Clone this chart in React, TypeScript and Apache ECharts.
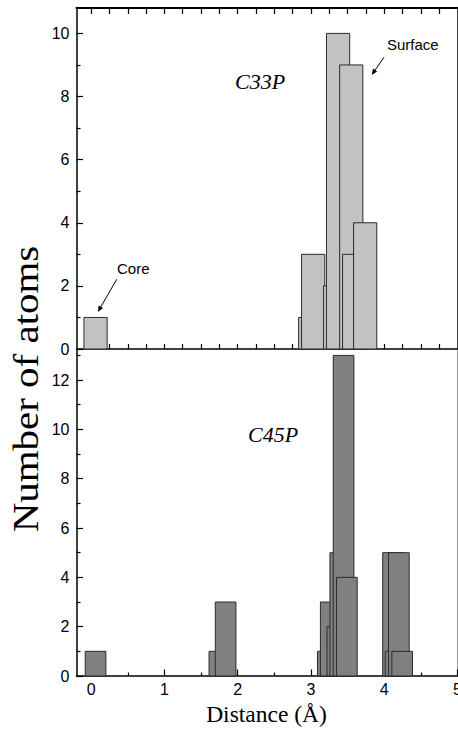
import React, { useEffect, useRef } from 'react';
import * as echarts from 'echarts';

// C33P histogram (upper panel): bar centres (Å) and atom counts
const c33pDistance = [0.06, 2.99, 3.03, 3.33, 3.37, 3.55, 3.59, 3.74];
const c33pCount = [1, 1, 3, 2, 10, 9, 3, 4];

// C45P histogram (lower panel)
const c45pDistance = [0.06, 1.75, 1.835, 3.23, 3.27, 3.36, 3.4, 3.445, 3.49, 4.12, 4.155, 4.2, 4.245];
const c45pCount = [1, 1, 3, 1, 3, 2, 5, 13, 4, 5, 1, 5, 1];

// tick values / labels
const xLabelTicks = [0, 1, 2, 3, 4, 5];
const xHalfTicks = [0.5, 1.5, 2.5, 3.5, 4.5];
const xQuarterTicks = [0, 0.25, 0.5, 0.75, 1, 1.25, 1.5, 1.75, 2, 2.25, 2.5, 2.75, 3, 3.25, 3.5, 3.75, 4, 4.25, 4.5, 4.75];
const c33pYTicks = [0, 2, 4, 6, 8, 10];
const c33pYMinor = [1, 3, 5, 7, 9];
const c45pYTicks = [0, 2, 4, 6, 8, 10, 12];
const c45pYMinor = [1, 3, 5, 7, 9, 11, 13];

const X_MIN = -0.2;
const X_MAX = 5;
const TOP_Y_MAX = 10.82;
const BOT_Y_MAX = 13.26;
const TOP_BAR_W = 0.317;
const BOT_BAR_W = 0.282;

const SANS = '"Liberation Sans", Arial, sans-serif';
const SERIF = '"Liberation Serif", "Times New Roman", serif';

function makeRender(w: number, fill: string) {
  return (params: any, api: any) => {
    const x = api.value(0);
    const y = api.value(1);
    const tl = api.coord([x - w / 2, y]);
    const br = api.coord([x + w / 2, 0]);
    return {
      type: 'rect',
      shape: { x: tl[0], y: tl[1], width: br[0] - tl[0], height: br[1] - tl[1] },
      style: { fill, stroke: '#2b2b2b', lineWidth: 1 },
    };
  };
}

function arrow(x1: number, y1: number, x2: number, y2: number) {
  const dx = x2 - x1;
  const dy = y2 - y1;
  const len = Math.sqrt(dx * dx + dy * dy);
  const ux = dx / len;
  const uy = dy / len;
  const hl = 6;
  const hw = 2.6;
  const bx = x2 - ux * hl;
  const by = y2 - uy * hl;
  return [
    { type: 'line', shape: { x1, y1, x2: bx, y2: by }, style: { stroke: '#000', lineWidth: 1 } },
    {
      type: 'polygon',
      shape: { points: [[x2, y2], [bx - uy * hw, by + ux * hw], [bx + uy * hw, by - ux * hw]] },
      style: { fill: '#000' },
    },
  ];
}

function xAxisBase(gridIndex: number, position: string) {
  return {
    type: 'value',
    gridIndex,
    position,
    min: X_MIN,
    max: X_MAX,
    splitLine: { show: false },
  };
}

export default function App() {
  const ref = useRef<HTMLDivElement>(null);

  useEffect(() => {
    if (!ref.current) return;
    const chart = echarts.init(ref.current, undefined, { renderer: 'svg' });

    const option: any = {
      animation: false,
      backgroundColor: '#ffffff',
      grid: [
        { left: 76.5, top: 7.5, width: 381, height: 341.5, containLabel: false, outerBoundsMode: 'none' },
        { left: 76.5, top: 349, width: 381, height: 327, containLabel: false, outerBoundsMode: 'none' },
      ],
      xAxis: [
        {
          ...xAxisBase(0, 'bottom'),
          axisLine: { show: true, onZero: false, lineStyle: { color: '#000', width: 1.5 } },
          axisTick: { show: true, inside: true, length: 5, customValues: xQuarterTicks, lineStyle: { color: '#000', width: 1.2 } },
          axisLabel: { show: false },
        },
        {
          ...xAxisBase(0, 'top'),
          axisLine: { show: true, onZero: false, lineStyle: { color: '#000', width: 2.2 } },
          axisTick: { show: true, inside: true, length: 6.5, customValues: xQuarterTicks, lineStyle: { color: '#000', width: 1.2 } },
          axisLabel: { show: false },
        },
        {
          ...xAxisBase(1, 'bottom'),
          axisLine: { show: true, onZero: false, lineStyle: { color: '#000', width: 1.5 } },
          axisTick: { show: true, inside: true, length: 6.5, customValues: xLabelTicks, lineStyle: { color: '#000', width: 1.2 } },
          axisLabel: {
            show: true,
            customValues: xLabelTicks,
            margin: 5,
            color: '#000',
            fontSize: 16,
            fontFamily: SANS,
          },
        },
        {
          ...xAxisBase(1, 'bottom'),
          axisLine: { show: false, onZero: false },
          axisTick: { show: true, inside: true, length: 3.5, customValues: xHalfTicks, lineStyle: { color: '#000', width: 1.2 } },
          axisLabel: { show: false },
        },
      ],
      yAxis: [
        {
          type: 'value', gridIndex: 0, position: 'left', min: 0, max: TOP_Y_MAX,
          splitLine: { show: false },
          axisLine: { show: true, onZero: false, lineStyle: { color: '#000', width: 1.5 } },
          axisTick: { show: true, inside: true, length: 6.5, customValues: c33pYTicks, lineStyle: { color: '#000', width: 1.2 } },
          axisLabel: { show: true, customValues: c33pYTicks, margin: 7, color: '#000', fontSize: 16, fontFamily: SANS },
        },
        {
          type: 'value', gridIndex: 0, position: 'left', min: 0, max: TOP_Y_MAX,
          splitLine: { show: false },
          axisLine: { show: false, onZero: false },
          axisTick: { show: true, inside: true, length: 4, customValues: c33pYMinor, lineStyle: { color: '#000', width: 1.2 } },
          axisLabel: { show: false },
        },
        {
          type: 'value', gridIndex: 0, position: 'right', min: 0, max: TOP_Y_MAX,
          splitLine: { show: false },
          axisLine: { show: true, onZero: false, lineStyle: { color: '#000', width: 1.5 } },
          axisTick: { show: false },
          axisLabel: { show: false },
        },
        {
          type: 'value', gridIndex: 1, position: 'left', min: 0, max: BOT_Y_MAX,
          splitLine: { show: false },
          axisLine: { show: true, onZero: false, lineStyle: { color: '#000', width: 1.5 } },
          axisTick: { show: true, inside: true, length: 6.5, customValues: c45pYTicks, lineStyle: { color: '#000', width: 1.2 } },
          axisLabel: { show: true, customValues: c45pYTicks, margin: 7, color: '#000', fontSize: 16, fontFamily: SANS },
        },
        {
          type: 'value', gridIndex: 1, position: 'left', min: 0, max: BOT_Y_MAX,
          splitLine: { show: false },
          axisLine: { show: false, onZero: false },
          axisTick: { show: true, inside: true, length: 4, customValues: c45pYMinor, lineStyle: { color: '#000', width: 1.2 } },
          axisLabel: { show: false },
        },
        {
          type: 'value', gridIndex: 1, position: 'right', min: 0, max: BOT_Y_MAX,
          splitLine: { show: false },
          axisLine: { show: true, onZero: false, lineStyle: { color: '#9a9a9a', width: 1 } },
          axisTick: { show: false },
          axisLabel: { show: false },
        },
      ],
      series: [
        {
          type: 'custom',
          name: 'C33P',
          xAxisIndex: 0,
          yAxisIndex: 0,
          encode: { x: 0, y: 1 },
          renderItem: makeRender(TOP_BAR_W, '#c2c2c2'),
          data: c33pDistance.map((d, i) => [d, c33pCount[i]]),
          z: 1,
        },
        {
          type: 'custom',
          name: 'C45P',
          xAxisIndex: 2,
          yAxisIndex: 3,
          encode: { x: 0, y: 1 },
          renderItem: makeRender(BOT_BAR_W, '#808080'),
          data: c45pDistance.map((d, i) => [d, c45pCount[i]]),
          z: 1,
        },
      ],
      graphic: [
        {
          type: 'text', left: 235, top: 70,
          style: { text: 'C33P', font: `italic 22px ${SERIF}`, fill: '#000' },
        },
        {
          type: 'text', left: 248, top: 423,
          style: { text: 'C45P', font: `italic 22px ${SERIF}`, fill: '#000' },
        },
        {
          type: 'text', left: 387, top: 37,
          style: { text: 'Surface', font: `15px ${SANS}`, fill: '#000' },
        },
        ...arrow(384, 57.3, 371.7, 75),
        {
          type: 'text', left: 117, top: 261,
          style: { text: 'Core', font: `15px ${SANS}`, fill: '#000' },
        },
        ...arrow(116.7, 279.3, 97.9, 312),
        {
          type: 'text',
          x: 26,
          y: 389,
          rotation: Math.PI / 2,
          scaleX: 1.17,
          style: {
            text: 'Number of atoms',
            font: `35px ${SERIF}`,
            fill: '#000',
            align: 'center',
            verticalAlign: 'middle',
          },
        },
        {
          type: 'text',
          x: 266.5,
          y: 714,
          style: {
            text: 'Distance (Å)',
            font: `23.5px ${SERIF}`,
            fill: '#000',
            align: 'center',
            verticalAlign: 'middle',
          },
        },
      ],
    };

    chart.setOption(option);
    return () => {
      chart.dispose();
    };
  }, []);

  return (
    <div
      ref={ref}
      style={{ position: 'fixed', left: 0, top: 0, width: 458, height: 732, background: '#fff' }}
    />
  );
}
